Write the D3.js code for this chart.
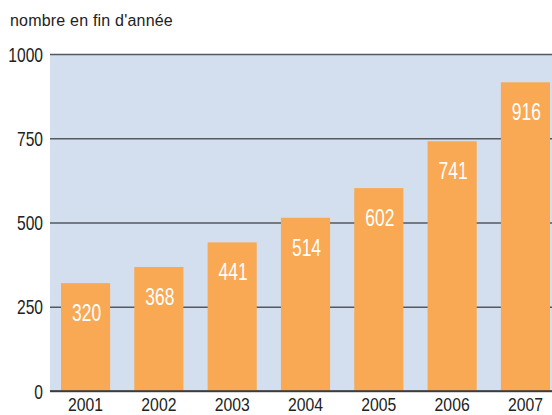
<!DOCTYPE html>
<html>
<head>
<meta charset="utf-8">
<script src="https://cdn.jsdelivr.net/npm/d3@7"></script>
<style>
  body { margin: 0; background: #fff; }
  svg { display: block; }
</style>
</head>
<body>
<div id="chart"></div>
<script>
let years = ['2001', '2002', '2003', '2004', '2005', '2006', '2007'];
let values = [320, 368, 441, 514, 602, 741, 916];
let yTicks = [0, 250, 500, 750, 1000];
let title = "nombre en fin d'année";

let dim = {
    'width': 552,
    'height': 415
};

let plot = { left: 50, right: 552, top: 54, bottom: 391 };
let font = 'Liberation Sans, Arial, sans-serif';
// the original uses a condensed face, we squeeze Arial-like glyphs horizontally
let squeeze = 0.78;

let svg = d3.select('#chart').append('svg')
    .attr('width', dim.width)
    .attr('height', dim.height);

// background of plot
svg.append('rect')
    .attr('x', plot.left)
    .attr('y', plot.top)
    .attr('width', plot.right - plot.left)
    .attr('height', plot.bottom - plot.top)
    .attr('fill', '#d3deef');

let scaleX = d3.scaleBand()
    .domain(years)
    .range([plot.left, plot.left + 7 * 73])
    .paddingInner(0.33)
    .paddingOuter(0.15);

let scaleY = d3.scaleLinear()
    .domain([0, 1000])
    .range([plot.bottom, plot.top]);

// gridlines + y labels
let axisY = d3.axisLeft(scaleY)
    .tickValues(yTicks)
    .tickFormat(d3.format('d'))
    .tickSize(-(plot.right - plot.left));

let gy = svg.append('g')
    .attr('transform', `translate(${plot.left}, 0)`)
    .call(axisY);
gy.select('.domain').remove();
gy.selectAll('.tick line')
    .attr('stroke', '#55585e')
    .attr('stroke-width', 1.5);
gy.selectAll('.tick text')
    .attr('x', null)
    .attr('dy', null)
    .attr('y', 7)
    .attr('transform', `translate(-7, 0) scale(${squeeze}, 1)`)
    .attr('font-family', font)
    .attr('font-size', 20)
    .attr('fill', '#222');

// bars
svg.append('g').selectAll('rect')
    .data(values)
    .join('rect')
    .attr('x', (d, i) => scaleX(years[i]))
    .attr('y', d => scaleY(d))
    .attr('width', scaleX.bandwidth())
    .attr('height', d => scaleY(0) - scaleY(d))
    .attr('fill', '#f9a853');

// value labels
svg.append('g').selectAll('text')
    .data(values)
    .join('text')
    .attr('transform', (d, i) => `translate(${scaleX(years[i]) + scaleX.bandwidth() / 2 + 1}, ${scaleY(d) + 38}) scale(0.76, 1)`)
    .attr('text-anchor', 'middle')
    .attr('font-family', font)
    .attr('font-size', 23)
    .attr('fill', '#fff')
    .text(d => d);

// baseline
svg.append('line')
    .attr('x1', plot.left)
    .attr('x2', plot.right)
    .attr('y1', scaleY(0))
    .attr('y2', scaleY(0))
    .attr('stroke', '#333')
    .attr('stroke-width', 1.5);

// x labels
let axisX = d3.axisBottom(scaleX).tickSize(0).tickPadding(0);
let gx = svg.append('g')
    .attr('transform', `translate(0, ${plot.bottom})`)
    .call(axisX);
gx.select('.domain').remove();
gx.selectAll('.tick text')
    .attr('dy', null)
    .attr('y', 20)
    .attr('transform', `scale(0.83, 1)`)
    .attr('font-family', font)
    .attr('font-size', 19)
    .attr('fill', '#222');

// title
svg.append('text')
    .attr('x', 10)
    .attr('y', 26)
    .attr('font-family', font)
    .attr('font-size', 16)
    .attr('letter-spacing', 0.2)
    .attr('fill', '#222')
    .text(title);
</script>
</body>
</html>
